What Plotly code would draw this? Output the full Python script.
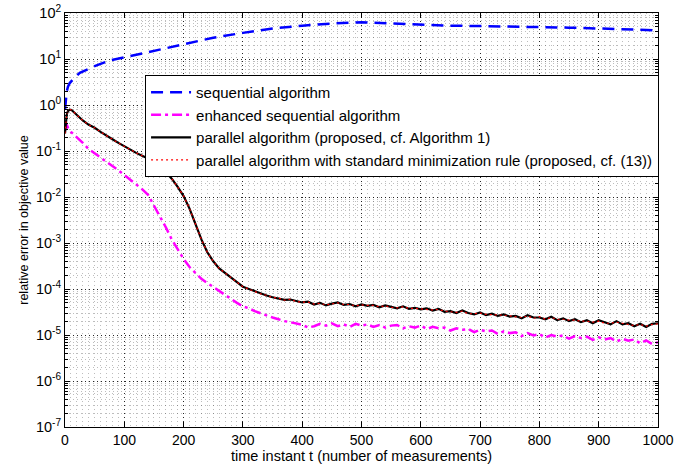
import plotly.graph_objects as go

# ---------------- data ----------------
seq_t = [0, 1, 3, 5, 8, 15, 25, 50, 75, 100, 150, 200, 250, 300, 350, 400, 450, 500,
         550, 600, 650, 700, 750, 800, 850, 900, 950, 1000]
seq_err = [0.8, 1.1, 2.0, 2.5, 3.0, 3.8, 5.0, 7.0, 9.3, 10.8, 15.0, 21, 29, 37, 46, 53,
           59, 63, 60, 55, 53, 52, 51, 50, 48, 46, 44, 42]

enh_t = [0, 1, 3, 5, 10, 20, 30] + list(range(40, 1001, 10))
enh_err = [0.28, 0.35, 0.37, 0.32, 0.26, 0.20, 0.15,
           0.11, 0.089, 0.074, 0.060, 0.048, 0.038, 0.030, 0.024, 0.019, 0.0148,   # 40-130
           0.0112, 0.0066, 0.0040, 0.0022, 0.0012, 7.1e-4, 4.5e-4, 3.0e-4, 2.2e-4,  # 140-220
           1.66e-4, 1.35e-4, 1.10e-4, 9.1e-5, 7.6e-5, 6.0e-5, 5.0e-5, 4.2e-5,      # 230-300
           3.8e-5, 3.3e-5, 2.95e-5, 2.6e-5, 2.4e-5, 2.2e-5, 2.0e-5, 1.9e-5, 1.8e-5, # 310-390
           1.66e-5, 1.45e-5, 1.55e-5, 1.75e-5, 1.6e-5, 1.8e-5, 1.55e-5, 1.7e-5,    # 400-470
           1.5e-5, 1.75e-5, 1.6e-5, 1.7e-5, 1.5e-5, 1.65e-5, 1.45e-5, 1.6e-5,      # 480-550
           1.65e-5, 1.4e-5, 1.55e-5, 1.45e-5, 1.6e-5, 1.35e-5, 1.5e-5, 1.4e-5,     # 560-630
           1.45e-5, 1.25e-5, 1.4e-5, 1.3e-5, 1.35e-5, 1.15e-5, 1.3e-5, 1.2e-5,     # 640-710
           1.25e-5, 1.05e-5, 1.2e-5, 1.1e-5, 1.15e-5, 9.5e-6, 1.1e-5, 9.8e-6,      # 720-790
           1.05e-5, 8.8e-6, 1.0e-5, 9.2e-6, 9.8e-6, 8.3e-6, 9.5e-6, 8.6e-6,        # 800-870
           9.2e-6, 7.8e-6, 8.9e-6, 8.0e-6, 8.6e-6, 7.2e-6, 8.3e-6, 7.5e-6,         # 880-950
           8.0e-6, 6.6e-6, 7.6e-6, 6.4e-6, 7.0e-6]                                 # 960-1000

par_t = [0, 1, 2, 3, 5, 8, 11, 15, 20, 30] + list(range(40, 1001, 10))
par_err = [0.24, 0.35, 0.50, 0.63, 0.74, 0.79, 0.78, 0.69, 0.60, 0.46,
           0.37, 0.32, 0.26, 0.22, 0.18, 0.15, 0.126, 0.105, 0.091, 0.079,         # 40-130
           0.069, 0.063, 0.050, 0.035, 0.025, 0.0166, 0.0105, 0.0056, 0.0026,      # 140-220
           1.2e-3, 6.3e-4, 4.0e-4, 2.8e-4, 2.2e-4, 1.74e-4, 1.41e-4, 1.12e-4,      # 230-300
           1.0e-4, 8.7e-5, 7.9e-5, 7.2e-5, 6.6e-5, 6.3e-5, 5.8e-5, 5.9e-5, 5.4e-5, # 310-390
           5.1e-5, 5.3e-5, 4.6e-5, 5.0e-5, 4.4e-5, 4.8e-5, 5.1e-5, 4.5e-5,        # 400-470
           4.7e-5, 4.2e-5, 4.6e-5, 4.3e-5, 4.5e-5, 4.0e-5, 4.4e-5, 4.1e-5,        # 480-550
           3.8e-5, 4.2e-5, 3.7e-5, 3.9e-5, 3.6e-5, 3.8e-5, 3.4e-5, 3.7e-5,        # 560-630
           3.2e-5, 3.3e-5, 3.0e-5, 3.4e-5, 3.0e-5, 2.8e-5, 3.1e-5, 2.7e-5,        # 640-710
           2.9e-5, 2.6e-5, 2.8e-5, 2.5e-5, 2.6e-5, 2.3e-5, 2.7e-5, 2.4e-5,        # 720-790
           2.4e-5, 2.2e-5, 2.5e-5, 2.1e-5, 2.3e-5, 2.0e-5, 2.2e-5, 1.9e-5,        # 800-870
           2.1e-5, 1.8e-5, 2.1e-5, 1.9e-5, 1.7e-5, 2.0e-5, 1.7e-5, 1.8e-5,        # 880-950
           1.55e-5, 1.75e-5, 1.5e-5, 1.75e-5, 1.8e-5]                             # 960-1000

std_t = par_t
std_err = [0.24, 0.35, 0.50, 0.63, 0.74, 0.79, 0.78, 0.69, 0.60, 0.46,
           0.37, 0.32, 0.26, 0.22, 0.18, 0.15, 0.126, 0.105, 0.091, 0.079,
           0.069, 0.063, 0.050, 0.035, 0.025, 0.0166, 0.0105, 0.0056, 0.0026,
           1.2e-3, 6.3e-4, 4.0e-4, 2.8e-4, 2.2e-4, 1.74e-4, 1.41e-4, 1.12e-4,
           1.0e-4, 8.8e-5, 7.8e-5, 7.3e-5, 6.5e-5, 6.4e-5, 5.7e-5, 6.0e-5, 5.3e-5,
           5.2e-5, 5.2e-5, 4.7e-5, 4.9e-5, 4.5e-5, 4.7e-5, 5.0e-5, 4.6e-5,
           4.6e-5, 4.3e-5, 4.5e-5, 4.4e-5, 4.4e-5, 4.1e-5, 4.3e-5, 4.0e-5,
           3.9e-5, 4.1e-5, 3.8e-5, 3.8e-5, 3.7e-5, 3.7e-5, 3.5e-5, 3.6e-5,
           3.3e-5, 3.2e-5, 3.1e-5, 3.3e-5, 2.9e-5, 2.9e-5, 3.0e-5, 2.8e-5,
           2.8e-5, 2.7e-5, 2.7e-5, 2.6e-5, 2.5e-5, 2.4e-5, 2.6e-5, 2.3e-5,
           2.5e-5, 2.2e-5, 2.4e-5, 2.2e-5, 2.2e-5, 2.1e-5, 2.1e-5, 2.0e-5,
           2.0e-5, 1.9e-5, 2.0e-5, 1.8e-5, 1.8e-5, 1.9e-5, 1.8e-5, 1.7e-5,
           1.6e-5, 1.7e-5, 1.55e-5, 1.7e-5, 1.75e-5]

series_names = [
    "sequential algorithm",
    "enhanced sequential algorithm",
    "parallel algorithm (proposed, cf. Algorithm 1)",
    "parallel algorithm with standard minimization rule (proposed, cf. (13))",
]

x_ticks = [0, 100, 200, 300, 400, 500, 600, 700, 800, 900, 1000]
y_tick_exponents = [-7, -6, -5, -4, -3, -2, -1, 0, 1, 2]

x_title = "time instant t (number of measurements)"
y_title = "relative error in objective value"

# ---------------- figure ----------------
FONT = "Liberation Sans, Arial, Helvetica, sans-serif"

fig = go.Figure()
fig.add_trace(go.Scatter(x=seq_t, y=seq_err, mode="lines", name=series_names[0],
                         line=dict(color="#0000FF", width=2.5, dash="12px,7px")))
fig.add_trace(go.Scatter(x=enh_t, y=enh_err, mode="lines", name=series_names[1],
                         line=dict(color="#FF00FF", width=2.5, dash="10px,4px,3px,4px")))
fig.add_trace(go.Scatter(x=par_t, y=par_err, mode="lines", name=series_names[2],
                         line=dict(color="#000000", width=2.2)))
fig.add_trace(go.Scatter(x=std_t, y=std_err, mode="lines", name=series_names[3],
                         line=dict(color="#FF0000", width=1.2, dash="2px,3px")))

grid_major = dict(showgrid=True, gridcolor="rgba(0,0,0,0.8)", gridwidth=1, griddash="1px,3px")
minor_grid_color = "rgba(0,0,0,0.26)"

fig.update_layout(
    width=697, height=471,
    margin=dict(l=65, r=39, t=13, b=44),
    paper_bgcolor="white", plot_bgcolor="white",
    font=dict(family=FONT, size=14, color="black"),
    showlegend=True,
    legend=dict(x=0.135, y=0.85, xanchor="left", yanchor="top",
                bgcolor="white", bordercolor="black", borderwidth=1,
                font=dict(family=FONT, size=15, color="black"),
                tracegroupgap=0, itemwidth=40),
    xaxis=dict(range=[0, 1000], tickvals=x_ticks, ticktext=[str(v) for v in x_ticks],
               ticks="inside", ticklen=5, tickcolor="black",
               showline=True, linecolor="black", linewidth=1, mirror="allticks",
               zeroline=False, automargin=False,
               title=dict(text=x_title, standoff=2, font=dict(size=14.5)),
               tickfont=dict(size=14),
               minor=dict(dtick=10, showgrid=True, gridcolor=minor_grid_color,
                          griddash="1px,3px", gridwidth=1, ticks=""),
               **grid_major),
    yaxis=dict(type="log", range=[-7, 2],
               tickvals=[10.0 ** e for e in y_tick_exponents],
               ticktext=[f"10<sup>{e}</sup>" for e in y_tick_exponents],
               ticks="inside", ticklen=5, tickcolor="black",
               showline=True, linecolor="black", linewidth=1, mirror="allticks",
               zeroline=False, automargin=False,
               title=dict(text=y_title, standoff=4, font=dict(size=12.5)),
               tickfont=dict(size=14.5),
               minor=dict(dtick="D1", showgrid=True, gridcolor=minor_grid_color,
                          griddash="1px,3px", gridwidth=1, ticks="inside", ticklen=3,
                          tickcolor="black"),
               **grid_major),
)

fig.write_html("out.html")
